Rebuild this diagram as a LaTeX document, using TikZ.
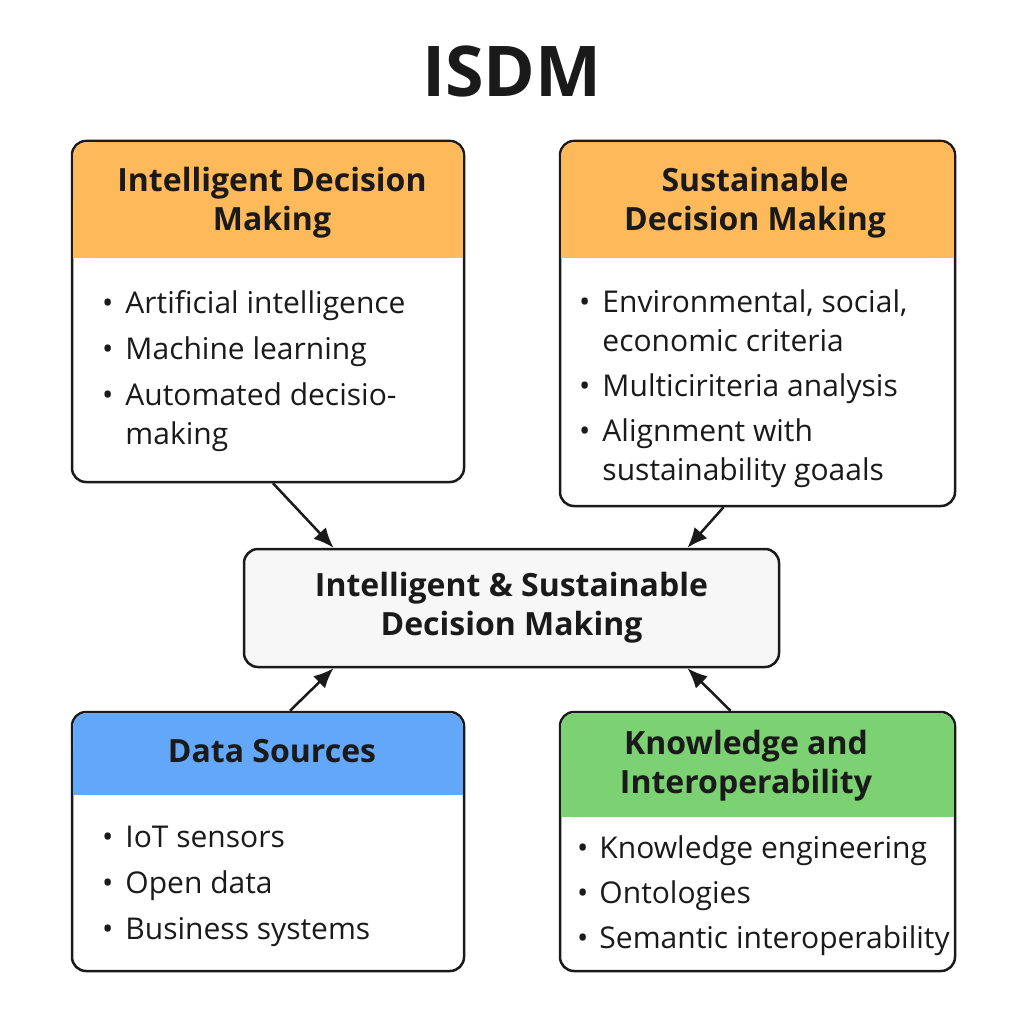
\documentclass[tikz,border=0pt]{standalone}
\usepackage{fontspec}
\setmainfont{Open Sans}
\usetikzlibrary{arrows.meta}
\definecolor{hdorange}{HTML}{FDB95A}
\definecolor{hdblue}{HTML}{63A8F8}
\definecolor{hdgreen}{HTML}{7CD273}
\definecolor{midgray}{HTML}{F7F7F7}
\definecolor{ink}{HTML}{1A1A1A}

\begin{document}
\begin{tikzpicture}[x=1pt,y=-1pt,
    panel/.style={draw=ink,line width=2.5pt,rounded corners=14pt,fill=white,inner sep=0},
    headtext/.style={align=center,text=ink,font=\fontsize{32}{39}\selectfont\bfseries},
    listtext/.style={anchor=base west,text=ink,inner sep=0,font=\fontsize{30}{39}\selectfont},
    link/.style={draw=ink,line width=2.5pt,-{Latex[length=20pt,width=17pt]}}]
    \useasboundingbox[fill=white] (0,0) rectangle (1024,1024);

    \node at (512,72) [text=ink,font=\fontsize{70}{84}\selectfont\bfseries] (title) {ISDM};

    % four panels and the centre box
    \node at (268,311.5) [panel,minimum width=392pt,minimum height=341pt] (idm) {};
    \node at (757.5,323.5) [panel,minimum width=395pt,minimum height=365pt] (sdm) {};
    \node at (268,841.5) [panel,minimum width=392pt,minimum height=259pt] (ds) {};
    \node at (757.5,841.5) [panel,minimum width=395pt,minimum height=259pt] (kio) {};
    \node at (511.5,608) [panel,fill=midgray,minimum width=535pt,minimum height=118pt,headtext] (isdm) {Intelligent \& Sustainable\\Decision Making};

    % coloured headers
    \fill[hdorange,rounded corners=12.75pt] (73.25,142.25) rectangle (462.75,258);
    \fill[hdorange] (73.25,200) rectangle (462.75,258);
    \fill[hdorange,rounded corners=12.75pt] (561.25,142.25) rectangle (953.75,258);
    \fill[hdorange] (561.25,200) rectangle (953.75,258);
    \fill[hdblue,rounded corners=12.75pt] (73.25,713.25) rectangle (462.75,795);
    \fill[hdblue] (73.25,750) rectangle (462.75,795);
    \fill[hdgreen,rounded corners=12.75pt] (561.25,713.25) rectangle (953.75,817);
    \fill[hdgreen] (561.25,760) rectangle (953.75,817);

    \node at (272,203) [headtext] (idmhead) {Intelligent Decision\\Making};
    \node at (755,203) [headtext] (sdmhead) {Sustainable\\Decision Making};
    \node at (272,751) [headtext] (dshead) {Data Sources};
    \node at (746,766) [headtext] (kiohead) {Knowledge and\\Interoperability};

    \node at (102,313) [listtext] (idmlist) {\begin{tabular}[t]{@{}l@{\hspace{12pt}}l@{}}
        \textbullet & Artificial intelligence\\[7pt]
        \textbullet & Machine learning\\[7pt]
        \textbullet & Automated decisio-\\
        & making
    \end{tabular}};
    \node at (579,312) [listtext] (sdmlist) {\begin{tabular}[t]{@{}l@{\hspace{12pt}}l@{}}
        \textbullet & Environmental, social,\\
        & economic criteria\\[6pt]
        \textbullet & Multiciriteria analysis\\[6pt]
        \textbullet & Alignment with\\
        & sustainability goaals
    \end{tabular}};
    \node at (102,847) [listtext] (dslist) {\begin{tabular}[t]{@{}l@{\hspace{12pt}}l@{}}
        \textbullet & IoT sensors\\[7pt]
        \textbullet & Open data\\[7pt]
        \textbullet & Business systems
    \end{tabular}};
    \node at (577,858) [listtext] (kiolist) {\begin{tabular}[t]{@{}l@{\hspace{11pt}}l@{}}
        \textbullet & Knowledge engineering\\[6pt]
        \textbullet & Ontologies\\[6pt]
        \textbullet & Semantic interoperability
    \end{tabular}};

    \draw[link] ([xshift=5pt]idm.south) -- ([xshift=-178pt]isdm.north);
    \draw[link] ([xshift=-34pt]sdm.south) -- ([xshift=176pt]isdm.north);
    \draw[link] ([xshift=22pt]ds.north) -- ([xshift=-178pt]isdm.south);
    \draw[link] ([xshift=-27pt]kio.north) -- ([xshift=176pt]isdm.south);
\end{tikzpicture}
\end{document}
